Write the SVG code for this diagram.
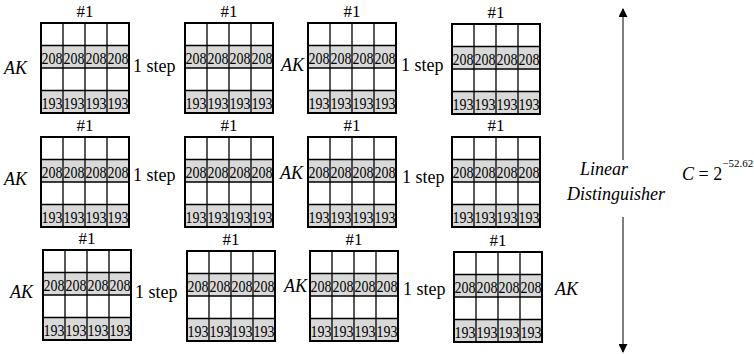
<svg xmlns="http://www.w3.org/2000/svg" width="754" height="354" viewBox="0 0 754 354">
<style>
text{font-family:"Times New Roman",Times,"Liberation Serif","Noto Serif","DejaVu Serif",serif;fill:#000}
.lbl{font-size:18px}
.it{font-style:italic}
.hd{font-size:17px;text-anchor:middle}
.num{font-size:16px;text-anchor:middle}
.gray{fill:#d9d9d9;stroke:none}
.inner{fill:none;stroke:#000;stroke-width:1.3}
.outer{fill:none;stroke:#000;stroke-width:2}
.arr{stroke:#555;stroke-width:1.5;fill:none}
</style>
<defs>
<marker id="ah" viewBox="0 0 10 10" refX="9" refY="5" markerWidth="9" markerHeight="9" markerUnits="userSpaceOnUse" orient="auto">
<path d="M0 0L10 5L0 10Z" fill="#000"/>
</marker>
</defs>
<rect width="754" height="354" fill="#fff"/>

<!-- Row 1 -->
<g id="r1g1" transform="translate(41,23)">
<text class="hd" x="44" y="-6">#1</text>
<rect class="gray" x="0" y="22.5" width="88" height="22.5"/><rect class="gray" x="0" y="67.5" width="88" height="22.5"/>
<path class="inner" d="M22 0V90M44 0V90M66 0V90M0 22.5H88M0 45H88M0 67.5H88"/>
<rect class="outer" width="88" height="90"/>
<text class="num" x="11" y="40.5" textLength="21" lengthAdjust="spacingAndGlyphs">208</text><text class="num" x="33" y="40.5" textLength="21" lengthAdjust="spacingAndGlyphs">208</text><text class="num" x="55" y="40.5" textLength="21" lengthAdjust="spacingAndGlyphs">208</text><text class="num" x="77" y="40.5" textLength="21" lengthAdjust="spacingAndGlyphs">208</text>
<text class="num" x="11" y="85.5" textLength="21" lengthAdjust="spacingAndGlyphs">193</text><text class="num" x="33" y="85.5" textLength="21" lengthAdjust="spacingAndGlyphs">193</text><text class="num" x="55" y="85.5" textLength="21" lengthAdjust="spacingAndGlyphs">193</text><text class="num" x="77" y="85.5" textLength="21" lengthAdjust="spacingAndGlyphs">193</text>
</g>
<g id="r1g2" transform="translate(185,23)">
<text class="hd" x="44" y="-6">#1</text>
<rect class="gray" x="0" y="22.5" width="88" height="22.5"/><rect class="gray" x="0" y="67.5" width="88" height="22.5"/>
<path class="inner" d="M22 0V90M44 0V90M66 0V90M0 22.5H88M0 45H88M0 67.5H88"/>
<rect class="outer" width="88" height="90"/>
<text class="num" x="11" y="40.5" textLength="21" lengthAdjust="spacingAndGlyphs">208</text><text class="num" x="33" y="40.5" textLength="21" lengthAdjust="spacingAndGlyphs">208</text><text class="num" x="55" y="40.5" textLength="21" lengthAdjust="spacingAndGlyphs">208</text><text class="num" x="77" y="40.5" textLength="21" lengthAdjust="spacingAndGlyphs">208</text>
<text class="num" x="11" y="85.5" textLength="21" lengthAdjust="spacingAndGlyphs">193</text><text class="num" x="33" y="85.5" textLength="21" lengthAdjust="spacingAndGlyphs">193</text><text class="num" x="55" y="85.5" textLength="21" lengthAdjust="spacingAndGlyphs">193</text><text class="num" x="77" y="85.5" textLength="21" lengthAdjust="spacingAndGlyphs">193</text>
</g>
<g id="r1g3" transform="translate(308,23)">
<text class="hd" x="44" y="-6">#1</text>
<rect class="gray" x="0" y="22.5" width="88" height="22.5"/><rect class="gray" x="0" y="67.5" width="88" height="22.5"/>
<path class="inner" d="M22 0V90M44 0V90M66 0V90M0 22.5H88M0 45H88M0 67.5H88"/>
<rect class="outer" width="88" height="90"/>
<text class="num" x="11" y="40.5" textLength="21" lengthAdjust="spacingAndGlyphs">208</text><text class="num" x="33" y="40.5" textLength="21" lengthAdjust="spacingAndGlyphs">208</text><text class="num" x="55" y="40.5" textLength="21" lengthAdjust="spacingAndGlyphs">208</text><text class="num" x="77" y="40.5" textLength="21" lengthAdjust="spacingAndGlyphs">208</text>
<text class="num" x="11" y="85.5" textLength="21" lengthAdjust="spacingAndGlyphs">193</text><text class="num" x="33" y="85.5" textLength="21" lengthAdjust="spacingAndGlyphs">193</text><text class="num" x="55" y="85.5" textLength="21" lengthAdjust="spacingAndGlyphs">193</text><text class="num" x="77" y="85.5" textLength="21" lengthAdjust="spacingAndGlyphs">193</text>
</g>
<g id="r1g4" transform="translate(452,24)">
<text class="hd" x="44" y="-6">#1</text>
<rect class="gray" x="0" y="22.5" width="88" height="22.5"/><rect class="gray" x="0" y="67.5" width="88" height="22.5"/>
<path class="inner" d="M22 0V90M44 0V90M66 0V90M0 22.5H88M0 45H88M0 67.5H88"/>
<rect class="outer" width="88" height="90"/>
<text class="num" x="11" y="40.5" textLength="21" lengthAdjust="spacingAndGlyphs">208</text><text class="num" x="33" y="40.5" textLength="21" lengthAdjust="spacingAndGlyphs">208</text><text class="num" x="55" y="40.5" textLength="21" lengthAdjust="spacingAndGlyphs">208</text><text class="num" x="77" y="40.5" textLength="21" lengthAdjust="spacingAndGlyphs">208</text>
<text class="num" x="11" y="85.5" textLength="21" lengthAdjust="spacingAndGlyphs">193</text><text class="num" x="33" y="85.5" textLength="21" lengthAdjust="spacingAndGlyphs">193</text><text class="num" x="55" y="85.5" textLength="21" lengthAdjust="spacingAndGlyphs">193</text><text class="num" x="77" y="85.5" textLength="21" lengthAdjust="spacingAndGlyphs">193</text>
</g>

<!-- Row 2 -->
<g id="r2g1" transform="translate(41,137)">
<text class="hd" x="44" y="-6">#1</text>
<rect class="gray" x="0" y="22.5" width="88" height="22.5"/><rect class="gray" x="0" y="67.5" width="88" height="22.5"/>
<path class="inner" d="M22 0V90M44 0V90M66 0V90M0 22.5H88M0 45H88M0 67.5H88"/>
<rect class="outer" width="88" height="90"/>
<text class="num" x="11" y="40.5" textLength="21" lengthAdjust="spacingAndGlyphs">208</text><text class="num" x="33" y="40.5" textLength="21" lengthAdjust="spacingAndGlyphs">208</text><text class="num" x="55" y="40.5" textLength="21" lengthAdjust="spacingAndGlyphs">208</text><text class="num" x="77" y="40.5" textLength="21" lengthAdjust="spacingAndGlyphs">208</text>
<text class="num" x="11" y="85.5" textLength="21" lengthAdjust="spacingAndGlyphs">193</text><text class="num" x="33" y="85.5" textLength="21" lengthAdjust="spacingAndGlyphs">193</text><text class="num" x="55" y="85.5" textLength="21" lengthAdjust="spacingAndGlyphs">193</text><text class="num" x="77" y="85.5" textLength="21" lengthAdjust="spacingAndGlyphs">193</text>
</g>
<g id="r2g2" transform="translate(185,137)">
<text class="hd" x="44" y="-6">#1</text>
<rect class="gray" x="0" y="22.5" width="88" height="22.5"/><rect class="gray" x="0" y="67.5" width="88" height="22.5"/>
<path class="inner" d="M22 0V90M44 0V90M66 0V90M0 22.5H88M0 45H88M0 67.5H88"/>
<rect class="outer" width="88" height="90"/>
<text class="num" x="11" y="40.5" textLength="21" lengthAdjust="spacingAndGlyphs">208</text><text class="num" x="33" y="40.5" textLength="21" lengthAdjust="spacingAndGlyphs">208</text><text class="num" x="55" y="40.5" textLength="21" lengthAdjust="spacingAndGlyphs">208</text><text class="num" x="77" y="40.5" textLength="21" lengthAdjust="spacingAndGlyphs">208</text>
<text class="num" x="11" y="85.5" textLength="21" lengthAdjust="spacingAndGlyphs">193</text><text class="num" x="33" y="85.5" textLength="21" lengthAdjust="spacingAndGlyphs">193</text><text class="num" x="55" y="85.5" textLength="21" lengthAdjust="spacingAndGlyphs">193</text><text class="num" x="77" y="85.5" textLength="21" lengthAdjust="spacingAndGlyphs">193</text>
</g>
<g id="r2g3" transform="translate(308,137)">
<text class="hd" x="44" y="-6">#1</text>
<rect class="gray" x="0" y="22.5" width="88" height="22.5"/><rect class="gray" x="0" y="67.5" width="88" height="22.5"/>
<path class="inner" d="M22 0V90M44 0V90M66 0V90M0 22.5H88M0 45H88M0 67.5H88"/>
<rect class="outer" width="88" height="90"/>
<text class="num" x="11" y="40.5" textLength="21" lengthAdjust="spacingAndGlyphs">208</text><text class="num" x="33" y="40.5" textLength="21" lengthAdjust="spacingAndGlyphs">208</text><text class="num" x="55" y="40.5" textLength="21" lengthAdjust="spacingAndGlyphs">208</text><text class="num" x="77" y="40.5" textLength="21" lengthAdjust="spacingAndGlyphs">208</text>
<text class="num" x="11" y="85.5" textLength="21" lengthAdjust="spacingAndGlyphs">193</text><text class="num" x="33" y="85.5" textLength="21" lengthAdjust="spacingAndGlyphs">193</text><text class="num" x="55" y="85.5" textLength="21" lengthAdjust="spacingAndGlyphs">193</text><text class="num" x="77" y="85.5" textLength="21" lengthAdjust="spacingAndGlyphs">193</text>
</g>
<g id="r2g4" transform="translate(452,137)">
<text class="hd" x="44" y="-6">#1</text>
<rect class="gray" x="0" y="22.5" width="88" height="22.5"/><rect class="gray" x="0" y="67.5" width="88" height="22.5"/>
<path class="inner" d="M22 0V90M44 0V90M66 0V90M0 22.5H88M0 45H88M0 67.5H88"/>
<rect class="outer" width="88" height="90"/>
<text class="num" x="11" y="40.5" textLength="21" lengthAdjust="spacingAndGlyphs">208</text><text class="num" x="33" y="40.5" textLength="21" lengthAdjust="spacingAndGlyphs">208</text><text class="num" x="55" y="40.5" textLength="21" lengthAdjust="spacingAndGlyphs">208</text><text class="num" x="77" y="40.5" textLength="21" lengthAdjust="spacingAndGlyphs">208</text>
<text class="num" x="11" y="85.5" textLength="21" lengthAdjust="spacingAndGlyphs">193</text><text class="num" x="33" y="85.5" textLength="21" lengthAdjust="spacingAndGlyphs">193</text><text class="num" x="55" y="85.5" textLength="21" lengthAdjust="spacingAndGlyphs">193</text><text class="num" x="77" y="85.5" textLength="21" lengthAdjust="spacingAndGlyphs">193</text>
</g>

<!-- Row 3 -->
<g id="r3g1" transform="translate(43,250)">
<text class="hd" x="44" y="-6">#1</text>
<rect class="gray" x="0" y="22.5" width="88" height="22.5"/><rect class="gray" x="0" y="67.5" width="88" height="22.5"/>
<path class="inner" d="M22 0V90M44 0V90M66 0V90M0 22.5H88M0 45H88M0 67.5H88"/>
<rect class="outer" width="88" height="90"/>
<text class="num" x="11" y="40.5" textLength="21" lengthAdjust="spacingAndGlyphs">208</text><text class="num" x="33" y="40.5" textLength="21" lengthAdjust="spacingAndGlyphs">208</text><text class="num" x="55" y="40.5" textLength="21" lengthAdjust="spacingAndGlyphs">208</text><text class="num" x="77" y="40.5" textLength="21" lengthAdjust="spacingAndGlyphs">208</text>
<text class="num" x="11" y="85.5" textLength="21" lengthAdjust="spacingAndGlyphs">193</text><text class="num" x="33" y="85.5" textLength="21" lengthAdjust="spacingAndGlyphs">193</text><text class="num" x="55" y="85.5" textLength="21" lengthAdjust="spacingAndGlyphs">193</text><text class="num" x="77" y="85.5" textLength="21" lengthAdjust="spacingAndGlyphs">193</text>
</g>
<g id="r3g2" transform="translate(187,251)">
<text class="hd" x="44" y="-6">#1</text>
<rect class="gray" x="0" y="22.5" width="88" height="22.5"/><rect class="gray" x="0" y="67.5" width="88" height="22.5"/>
<path class="inner" d="M22 0V90M44 0V90M66 0V90M0 22.5H88M0 45H88M0 67.5H88"/>
<rect class="outer" width="88" height="90"/>
<text class="num" x="11" y="40.5" textLength="21" lengthAdjust="spacingAndGlyphs">208</text><text class="num" x="33" y="40.5" textLength="21" lengthAdjust="spacingAndGlyphs">208</text><text class="num" x="55" y="40.5" textLength="21" lengthAdjust="spacingAndGlyphs">208</text><text class="num" x="77" y="40.5" textLength="21" lengthAdjust="spacingAndGlyphs">208</text>
<text class="num" x="11" y="85.5" textLength="21" lengthAdjust="spacingAndGlyphs">193</text><text class="num" x="33" y="85.5" textLength="21" lengthAdjust="spacingAndGlyphs">193</text><text class="num" x="55" y="85.5" textLength="21" lengthAdjust="spacingAndGlyphs">193</text><text class="num" x="77" y="85.5" textLength="21" lengthAdjust="spacingAndGlyphs">193</text>
</g>
<g id="r3g3" transform="translate(310,251)">
<text class="hd" x="44" y="-6">#1</text>
<rect class="gray" x="0" y="22.5" width="88" height="22.5"/><rect class="gray" x="0" y="67.5" width="88" height="22.5"/>
<path class="inner" d="M22 0V90M44 0V90M66 0V90M0 22.5H88M0 45H88M0 67.5H88"/>
<rect class="outer" width="88" height="90"/>
<text class="num" x="11" y="40.5" textLength="21" lengthAdjust="spacingAndGlyphs">208</text><text class="num" x="33" y="40.5" textLength="21" lengthAdjust="spacingAndGlyphs">208</text><text class="num" x="55" y="40.5" textLength="21" lengthAdjust="spacingAndGlyphs">208</text><text class="num" x="77" y="40.5" textLength="21" lengthAdjust="spacingAndGlyphs">208</text>
<text class="num" x="11" y="85.5" textLength="21" lengthAdjust="spacingAndGlyphs">193</text><text class="num" x="33" y="85.5" textLength="21" lengthAdjust="spacingAndGlyphs">193</text><text class="num" x="55" y="85.5" textLength="21" lengthAdjust="spacingAndGlyphs">193</text><text class="num" x="77" y="85.5" textLength="21" lengthAdjust="spacingAndGlyphs">193</text>
</g>
<g id="r3g4" transform="translate(454,252)">
<text class="hd" x="44" y="-6">#1</text>
<rect class="gray" x="0" y="22.5" width="88" height="22.5"/><rect class="gray" x="0" y="67.5" width="88" height="22.5"/>
<path class="inner" d="M22 0V90M44 0V90M66 0V90M0 22.5H88M0 45H88M0 67.5H88"/>
<rect class="outer" width="88" height="90"/>
<text class="num" x="11" y="40.5" textLength="21" lengthAdjust="spacingAndGlyphs">208</text><text class="num" x="33" y="40.5" textLength="21" lengthAdjust="spacingAndGlyphs">208</text><text class="num" x="55" y="40.5" textLength="21" lengthAdjust="spacingAndGlyphs">208</text><text class="num" x="77" y="40.5" textLength="21" lengthAdjust="spacingAndGlyphs">208</text>
<text class="num" x="11" y="85.5" textLength="21" lengthAdjust="spacingAndGlyphs">193</text><text class="num" x="33" y="85.5" textLength="21" lengthAdjust="spacingAndGlyphs">193</text><text class="num" x="55" y="85.5" textLength="21" lengthAdjust="spacingAndGlyphs">193</text><text class="num" x="77" y="85.5" textLength="21" lengthAdjust="spacingAndGlyphs">193</text>
</g>

<!-- Labels -->
<g id="labels">
<text class="lbl it" x="4" y="74">AK</text>
<text class="lbl" x="133" y="72">1 step</text>
<text class="lbl it" x="281" y="71">AK</text>
<text class="lbl" x="401" y="71">1 step</text>

<text class="lbl it" x="4" y="185">AK</text>
<text class="lbl" x="133" y="181">1 step</text>
<text class="lbl it" x="280" y="179">AK</text>
<text class="lbl" x="402" y="183">1 step</text>

<text class="lbl it" x="10" y="298">AK</text>
<text class="lbl" x="135" y="298">1 step</text>
<text class="lbl it" x="284" y="292">AK</text>
<text class="lbl" x="403" y="295">1 step</text>
<text class="lbl it" x="555" y="295">AK</text>
</g>

<g id="distinguisher">
<text class="lbl it" x="580" y="175">Linear</text>
<text class="lbl it" x="567" y="200">Distinguisher</text>
<text class="lbl" x="682" y="180"><tspan class="it">C</tspan> = 2<tspan font-size="11" dy="-13">−52.62</tspan></text>
</g>

<g id="connectors">
<line class="arr" x1="623" y1="160" x2="623" y2="9" marker-end="url(#ah)"/>
<line class="arr" x1="623" y1="217" x2="623" y2="352" marker-end="url(#ah)"/>
</g>
</svg>
